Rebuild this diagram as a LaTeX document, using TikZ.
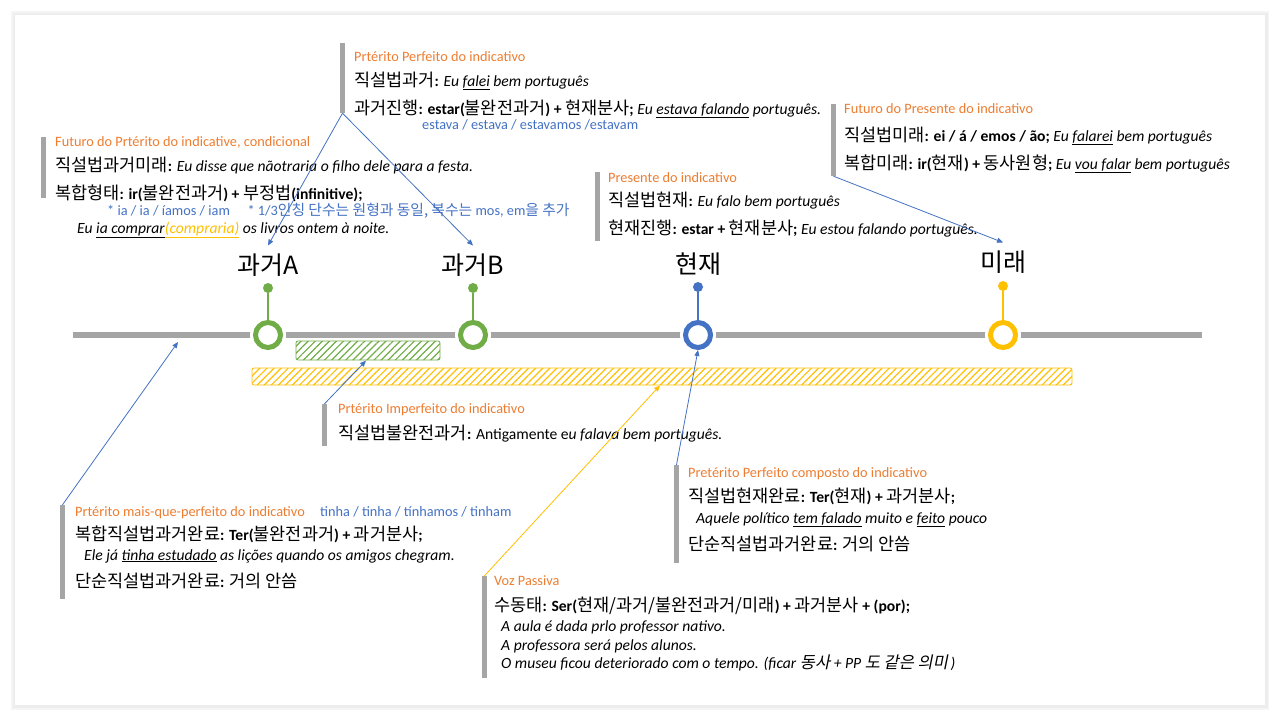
\documentclass[tikz,border=0pt]{standalone}
\usepackage{fontspec}
\setmainfont{Carlito}
\newfontfamily\krf{Noto Sans CJK KR}
\newfontfamily\krfi[FakeSlant=0.2]{Noto Sans CJK KR}
\usetikzlibrary{patterns.meta,arrows.meta}
\definecolor{org}{HTML}{ED7D31}
\definecolor{blu}{HTML}{4472C4}
\definecolor{grn}{HTML}{70AD47}
\definecolor{gld}{HTML}{FFC000}
\definecolor{gry}{HTML}{A5A5A5}
\newcommand{\K}[1]{{\krf\fontsize{17.5}{20}\selectfont #1}}
\newcommand{\Kb}[1]{{\krf\fontsize{14.8}{17}\selectfont #1}}
\newcommand{\Ki}[1]{{\krfi\fontsize{16.5}{19}\selectfont #1}}
\tikzset{
  head/.style={anchor=base west, inner sep=0, text=org, font=\fontsize{14.3}{17}\selectfont},
  ln/.style={anchor=base west, inner sep=0, font=\fontsize{15.6}{18}\selectfont},
  bl/.style={anchor=base west, inner sep=0, text=blu, font=\fontsize{14.3}{17}\selectfont},
  sbar/.style={rectangle, fill=gry, minimum width=5, inner sep=0, draw=none},
  ring/.style={circle, line width=5, minimum size=25, inner sep=0, fill=white},
  gapdisc/.style={circle, fill=white, minimum size=36, inner sep=0},
  dotn/.style={circle, minimum size=10, inner sep=0},
  tlab/.style={font=\krf\fontsize{25}{29}\selectfont, inner sep=0},
  con/.style={blu, line width=0.8, -{Triangle[length=6pt,width=5pt]}},
}
\begin{document}
\begin{tikzpicture}[x=1pt,y=-1pt]
\useasboundingbox (0,0) rectangle (1280,720);
\fill[white] (0,0) rectangle (1280,720);
\fill[black!4] (11,11) rectangle (1269,710);
\fill[black!7] (13,13) rectangle (1268,708);
\fill[white] (15,15) rectangle (1265,705);

% ---------- timeline ----------
\coordinate (tlL) at (73,335);
\coordinate (tlR) at (1202,335);
\draw[gry, line width=6.5] (tlL) -- (tlR);
\node[gapdisc] at (268,335) {};
\node[gapdisc] at (473,335) {};
\node[gapdisc] at (698,335) {};
\node[gapdisc] at (1003,335) {};
\node[ring, draw=grn] (pA) at (268,335) {};
\node[ring, draw=grn] (pB) at (473,335) {};
\node[ring, draw=blu] (pN) at (698,335) {};
\node[ring, draw=gld] (pF) at (1003,335) {};
\node[dotn, fill=grn] (dA) at (268,288) {};
\node[dotn, fill=grn] (dB) at (473,288) {};
\node[dotn, fill=blu] (dN) at (698,287) {};
\node[dotn, fill=gld] (dF) at (1003,286) {};
\draw[grn, line width=1.8] (dA) -- (pA);
\draw[grn, line width=1.8] (dB) -- (pB);
\draw[blu, line width=1.8] (dN) -- (pN);
\draw[gld, line width=1.8] (dF) -- (pF);
\node[tlab] (lA) at (268,265) {과거A};
\node[tlab] (lB) at (473,265) {과거B};
\node[tlab] (lN) at (698,264) {현재};
\node[tlab] (lF) at (1003,262) {미래};

% hatched bars
\node[draw=grn, line width=0.8, rounded corners=2, minimum width=144, minimum height=19, inner sep=0,
      pattern={Lines[angle=45,distance=5pt,line width=1.2pt]}, pattern color=grn] (hg) at (368,350.5) {};
\node[draw=gld, line width=0.8, rounded corners=2, minimum width=820, minimum height=17, inner sep=0,
      pattern={Lines[angle=45,distance=5pt,line width=1.2pt]}, pattern color=gld] (hy) at (662,376.5) {};

% ---------- Block 1: Prtérito Perfeito ----------
\node[sbar, minimum height=70] (b1) at (342.5,78) {};
\node[head] (h1) at (354,61) {Prtérito Perfeito do indicativo};
\node[ln] (t1a) at (354,86) {\K{직설법과거}\textbf{:} \textit{Eu \underline{falei} bem português}};
\node[ln] (t1b) at (354,114) {\K{과거진행}\textbf{: estar(}\K{불완전과거}\textbf{) + }\K{현재분사}\textbf{;} \textit{Eu \underline{estava falando} português.}};
\node[bl] (t1c) at (422,129) {estava / estava / estavamos /estavam};

% ---------- Block 2: Futuro do Prtérito ----------
\node[sbar, minimum height=61] (b2) at (43.5,167.5) {};
\node[head] (h2) at (55,146) {Futuro do Prtérito do indicative, condicional};
\node[ln] (t2a) at (55,171) {\K{직설법과거미래}\textbf{:} \textit{Eu disse que nãotraria o filho dele para a festa.}};
\node[ln] (t2b) at (55,199) {\K{복합형태}\textbf{: ir(}\K{불완전과거}\textbf{) + }\K{부정법}\textbf{(infinitive);}};
\node[bl] (t2c) at (107,215) {* ia / ia / íamos / iam\quad\ * 1/3\Kb{인칭 단수는 원형과 동일, 복수는} mos, em\Kb{을 추가}};
\node[ln] (t2d) at (77,233) {\textit{Eu \underline{ia comprar}\textcolor{gld}{\underline{(compraria)}} os livros ontem à noite.}};

% ---------- Block 3: Presente ----------
\node[sbar, minimum height=69] (b3) at (597.5,206.5) {};
\node[head] (h3) at (608,182) {Presente do indicativo};
\node[ln] (t3a) at (608,206) {\K{직설법현재}\textbf{:} \textit{Eu falo bem português}};
\node[ln] (t3b) at (608,234) {\K{현재진행}\textbf{: estar + }\K{현재분사}\textbf{;} \textit{Eu estou falando português.}};

% ---------- Block 4: Futuro do Presente ----------
\node[sbar, minimum height=72] (b4) at (833.5,140) {};
\node[head] (h4) at (844,113) {Futuro do Presente do indicativo};
\node[ln] (t4a) at (844,141) {\K{직설법미래}\textbf{: ei / á / emos / ão;} \textit{Eu \underline{falarei} bem português}};
\node[ln] (t4b) at (844,169) {\K{복합미래}\textbf{: ir(}\K{현재}\textbf{) + }\K{동사원형}\textbf{;} \textit{Eu \underline{vou falar} bem português}};

% ---------- Block 5: Imperfeito ----------
\node[sbar, minimum height=42] (b5) at (324.5,425) {};
\node[head] (h5) at (338,413) {Prtérito Imperfeito do indicativo};
\node[ln] (t5a) at (338,439) {\K{직설법불완전과거}\textbf{:} Antigamente e\textit{u falava bem português.}};

% ---------- Block 6: Perfeito composto ----------
\node[sbar, minimum height=98] (b6) at (676.5,514) {};
\node[head] (h6) at (688,477) {Pretérito Perfeito composto do indicativo};
\node[ln] (t6a) at (688,502) {\K{직설법현재완료}\textbf{: Ter(}\K{현재}\textbf{) + }\K{과거분사}\textbf{;}};
\node[ln] (t6b) at (696,523) {\textit{Aquele político \underline{tem falado} muito e \underline{feito} pouco}};
\node[ln] (t6c) at (688,550) {\K{단순직설법과거완료}\textbf{: }\K{거의 안씀}};

% ---------- Block 7: mais-que-perfeito ----------
\node[sbar, minimum height=94] (b7) at (62.5,552) {};
\node[head] (h7) at (75,516) {Prtérito mais-que-perfeito do indicativo};
\node[bl] (t7x) at (320,516) {tinha / tinha / tínhamos / tinham};
\node[ln] (t7a) at (75,540) {\K{복합직설법과거완료}\textbf{: Ter(}\K{불완전과거}\textbf{) + }\K{과거분사}\textbf{;}};
\node[ln] (t7b) at (84,560) {\textit{Ele já \underline{tinha estudado} as lições quando os amigos chegram.}};
\node[ln] (t7c) at (75,587) {\K{단순직설법과거완료}\textbf{: }\K{거의 안씀}};

% ---------- Block 8: Voz Passiva ----------
\node[sbar, minimum height=102] (b8) at (484.5,627) {};
\node[head] (h8) at (494,585) {Voz Passiva};
\node[ln] (t8a) at (494,611) {\K{수동태}\textbf{: Ser(}\K{현재/과거/불완전과거/미래}\textbf{) + }\K{과거분사}\textbf{ + (por);}};
\node[ln] (t8b) at (501,631) {\textit{A aula é dada prlo professor nativo.}};
\node[ln] (t8c) at (501,650) {\textit{A professora será pelos alunos.}};
\node[ln] (t8d) at (501,668) {\textit{O museu ficou deteriorado com o tempo. (ficar }\Ki{동사}\textit{ + PP }\Ki{도 같은 의미}\textit{\,)}};

% ---------- connectors ----------
\coordinate (past) at (178,342);
\draw[con] (b1.south) -- ([yshift=8pt]lA.north);
\draw[con] (b1.south) -- ([yshift=8pt]lB.north);
\draw[con] (b4.south) -- ([yshift=8pt]lF.north);
\draw[con] (b7.north) -- (past);
\draw[con] (b5.north) -- ([xshift=-2pt]hg.south);
\draw[con] (b6.north) -- (pN.south);
\draw[con, draw=gld] (b8.north) -- ([xshift=-2pt]hy.south);
\end{tikzpicture}
\end{document}
